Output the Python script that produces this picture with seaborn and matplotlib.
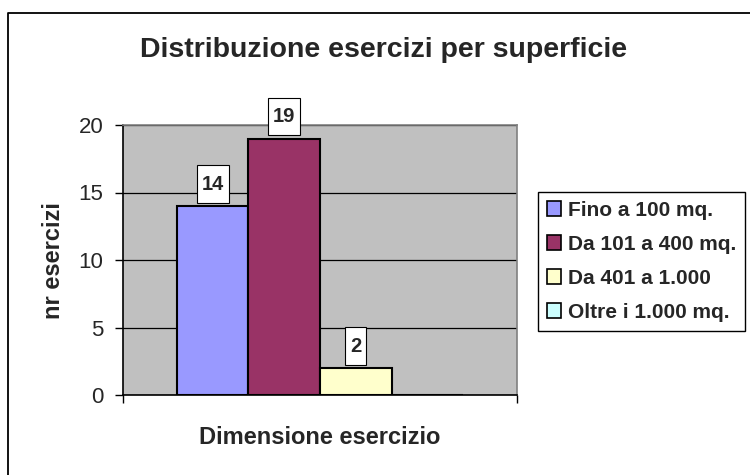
import numpy as np
import pandas as pd
import matplotlib
matplotlib.use("Agg")
import matplotlib.pyplot as plt
from matplotlib.patches import Patch
from matplotlib.lines import Line2D
import seaborn as sns

sns.set_style("ticks")
plt.rcParams['font.family'] = ['Liberation Sans', 'DejaVu Sans']

# data
categorie = ["Fino a 100 mq.", "Da 101 a 400 mq.", "Da 401 a 1.000", "Oltre i 1.000 mq."]
esercizi = [14, 19, 2, 0]
colori = ["#9999FF", "#993366", "#FFFFCC", "#CCFFFF"]
yticks = [0, 5, 10, 15, 20]

df = pd.DataFrame({"categoria": categorie, "n": esercizi})

fig = plt.figure(figsize=(7.5, 4.75), dpi=100)
ax = fig.add_axes([123/750, 1-395/475, 394/750, 270/475])
ax.set_facecolor("#C0C0C0")

sns.barplot(data=df, x="categoria", y="n", hue="categoria", palette=colori,
            saturation=1, width=1, edgecolor="black", linewidth=1.5,
            legend=False, ax=ax)

ax.set_xlim(-1.255, 4.255)
ax.set_ylim(0, 20)
ax.set_yticks(yticks)
ax.set_yticklabels([str(t) for t in yticks], fontsize=16)
ax.set_xticks([-1.255, 4.255])
ax.set_xticklabels(["", ""])
ax.tick_params(axis="both", direction="out", length=6, width=1, color="black", pad=8)
ax.yaxis.grid(True, color="black", linewidth=0.9)
ax.set_axisbelow(True)
ax.set_xlabel("")
ax.set_ylabel("")

for s in ["top", "right"]:
    ax.spines[s].set_color("#808080")
    ax.spines[s].set_linewidth(1.2)
for s in ["left", "bottom"]:
    ax.spines[s].set_color("black")
    ax.spines[s].set_linewidth(1.2)

# etichette valori
for i, v in enumerate(esercizi):
    if v == 0:
        continue
    ax.annotate(str(v), xy=(i, v), xytext=(0, 9), textcoords="offset points",
                ha="center", va="bottom", fontsize=14.5, fontweight="bold",
                bbox=dict(boxstyle="square,pad=0.25", fc="white", ec="black", lw=0.8,
                          mutation_aspect=1.8),
                annotation_clip=False)

# legenda
handles = [Patch(facecolor=c, edgecolor="black", linewidth=1.2) for c in colori]
fig.legend(handles, categorie, loc="upper left", bbox_to_anchor=(538/750, 1-192/475),
           frameon=True, fancybox=False, edgecolor="black", framealpha=1,
           prop={"size": 15, "weight": "bold"}, handlelength=0.7, handleheight=0.7,
           handletextpad=0.3, labelspacing=0.72, borderpad=0.42, borderaxespad=0)

# testi
fig.text(384/750, 1-50/475, "Distribuzione esercizi per superficie",
         ha="center", va="center", fontsize=20.5, fontweight="bold")
fig.text(320/750, 1-437/475, "Dimensione esercizio",
         ha="center", va="center", fontsize=17, fontweight="bold")
fig.text(53/750, 1-261/475, "nr esercizi", rotation=90,
         ha="center", va="center", fontsize=17, fontweight="bold")

# cornice esterna (solo sinistra e sopra)
fig.add_artist(Line2D([8/750, 8/750, 1], [0, 1-13/475, 1-13/475],
                      transform=fig.transFigure, color="black", linewidth=1.3))

fig.savefig("out.png", dpi=100)
